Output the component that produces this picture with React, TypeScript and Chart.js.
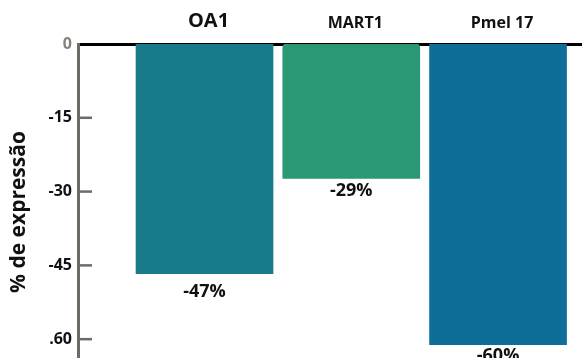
import React, { useEffect, useRef } from "react";
import { Chart, registerables } from "chart.js";

Chart.register(...registerables);

const categories = ["OA1", "MART1", "Pmel 17"];
const values = [-46.7, -27.3, -61.1];
const valueLabels = ["-47%", "-29%", "-60%"];
const yTicks = [0, -15, -30, -45, -60];
const yTickLabels = ["0", "-15", "-30", "-45", ".60"];

const barColors = ["#177b8b", "#2a9874", "#0f6e98"];
const labelOffsets = [18, 13, 11];
const axisGray = "#6f6a66";

const inwardTicks = {
  id: "inwardTicks",
  afterDraw(chart: any) {
    const { ctx, chartArea } = chart;
    const y = chart.scales.y;
    ctx.save();
    ctx.strokeStyle = axisGray;
    ctx.lineWidth = 2.5;
    yTicks.forEach((v) => {
      if (v === 0) return;
      const py = y.getPixelForValue(v);
      ctx.beginPath();
      ctx.moveTo(chartArea.left, py);
      ctx.lineTo(chartArea.left + 14, py);
      ctx.stroke();
    });
    ctx.restore();
  },
};

const barLabels = {
  id: "barLabels",
  afterDatasetsDraw(chart: any) {
    const { ctx } = chart;
    const meta = chart.getDatasetMeta(0);
    ctx.save();
    ctx.font = "bold 18px 'Open Sans'";
    ctx.fillStyle = "#111111";
    ctx.textAlign = "center";
    ctx.textBaseline = "middle";
    meta.data.forEach((el: any, i: number) => {
      ctx.fillText(valueLabels[i], el.x, el.y + labelOffsets[i]);
    });
    ctx.restore();
  },
};

export default function App() {
  const ref = useRef<HTMLCanvasElement>(null);
  useEffect(() => {
    if (!ref.current) return;
    const chart = new Chart(ref.current, {
      type: "bar",
      data: {
        datasets: [
          {
            data: categories.map((c, i) => ({ x: i, y: values[i] })),
            backgroundColor: barColors,
            barThickness: 137,
            borderSkipped: false,
            borderRadius: (ctx: any) =>
              ctx.dataIndex === 1
                ? { topLeft: 4, topRight: 4, bottomLeft: 0, bottomRight: 0 }
                : 0,
          },
        ],
      },
      options: {
        animation: false,
        responsive: false,
        layout: { padding: 0 },
        plugins: { legend: { display: false }, tooltip: { enabled: false } },
        scales: {
          x: {
            type: "linear",
            position: "top",
            offset: false,
            min: -0.862,
            max: 2.572,
            z: 1,
            afterBuildTicks: (scale: any) => {
              scale.ticks = categories.map((c, i) => ({ value: i }));
            },
            afterFit: (scale: any) => {
              scale.height = 44;
              scale.paddingLeft = 0;
              scale.paddingRight = 0;
            },
            grid: { display: false, drawTicks: false, offset: false },
            border: { display: true, color: "#000000", width: 3 },
            ticks: {
              padding: 11,
              labelOffset: 4,
              autoSkip: false,
              maxRotation: 0,
              color: "#111111",
              callback: (v: any) => categories[v] ?? "",
              font: (ctx: any) => ({
                family: "'Open Sans'",
                weight: "bold",
                size: ctx.index === 0 ? 20 : 16,
              }),
            },
          },
          y: {
            min: -68.3,
            max: 0,
            afterBuildTicks: (scale: any) => {
              scale.ticks = yTicks.map((v) => ({ value: v }));
            },
            afterFit: (scale: any) => {
              scale.width = 78;
              scale.paddingTop = 0;
              scale.paddingBottom = 0;
            },
            grid: { display: false, drawTicks: false },
            border: { display: true, color: axisGray, width: 3 },
            ticks: {
              padding: 6,
              autoSkip: false,
              callback: (v: any) => yTickLabels[yTicks.indexOf(v)] ?? "",
              color: (ctx: any) => (ctx.index === 0 ? "#85807c" : "#111111"),
              font: { family: "'Open Sans'", weight: "bold", size: 16 },
            },
            title: {
              display: true,
              text: "% de expressão",
              color: "#111111",
              font: { family: "'Open Sans'", weight: "bold", size: 21 },
              padding: { top: 6, bottom: 0 },
            },
          },
        },
      },
      plugins: [inwardTicks, barLabels],
    });
    return () => chart.destroy();
  }, []);
  return (
    <div
      style={{
        position: "absolute",
        left: 0,
        top: 0,
        width: 582,
        height: 358,
        overflow: "hidden",
        background: "#fff",
      }}
    >
      <canvas ref={ref} width={582} height={380} style={{ display: "block" }} />
    </div>
  );
}
